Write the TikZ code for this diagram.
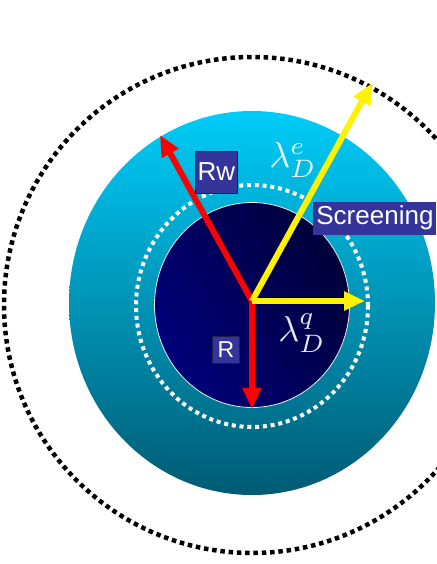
\documentclass[tikz,border=0pt]{standalone}
\usepackage{fontspec}
\setmainfont{Liberation Sans}
\usetikzlibrary{arrows.meta}
\definecolor{cyantop}{HTML}{00CCF8}
\definecolor{cyanbot}{HTML}{005B74}
\definecolor{navyA}{HTML}{00007A}
\definecolor{navyB}{HTML}{00003A}
\definecolor{labelfill}{HTML}{34349A}
\definecolor{labeldraw}{HTML}{1E1E50}
\tikzset{
  redarrow/.style={draw=red, line width=6pt, -{Triangle[length=21pt,width=18pt]}},
  yelarrow/.style={draw=yellow, line width=6pt, -{Triangle[length=21pt,width=18pt]}},
  labelbox/.style={fill=labelfill, draw=labeldraw, line width=0.8pt, text=white, inner sep=0pt, font=\fontsize{26}{28}\selectfont},
  lambdalabel/.style={text=white, text opacity=0.9, inner sep=0pt},
  blackdots/.style={draw=black, line width=4.5pt, dash pattern=on 4.5pt off 3.8pt},
  whitedots/.style={draw=white, line width=4pt, dash pattern=on 4pt off 3.8pt}
}
\begin{document}
\begin{tikzpicture}[x=1pt,y=-1pt]
\useasboundingbox (0,0) rectangle (436,564);
\fill[white] (0,0) rectangle (436,564);
% outer dotted circle
\draw[blackdots] (252,305) circle [radius=248pt];
% cyan ellipse
\shade[top color=cyantop, bottom color=cyanbot] (252,303) ellipse [x radius=183pt, y radius=192pt];
% white dotted ring
\draw[whitedots] (252,306) ellipse [x radius=116pt, y radius=121pt];
% inner dark core
\shade[left color=navyA, right color=navyB, shading angle=120] (252,305) ellipse [x radius=97.5pt, y radius=102.5pt];
\draw[white!85!gray, line width=0.8pt] (252,305) ellipse [x radius=97.5pt, y radius=102.5pt];
% arrows
\coordinate (O) at (252,301);
\coordinate (Rwtip) at (160,135);
\coordinate (Rtip) at (252,409);
\coordinate (Etip) at (372,83);
\coordinate (Qtip) at (365,301);
\draw[redarrow] (O) -- (Rwtip);
\draw[redarrow] (O) -- (Rtip);
\draw[yelarrow] (O) -- (Etip);
\draw[yelarrow] (O) -- (Qtip);
% labels
\node[labelbox, minimum width=42pt, minimum height=42pt] (Rw) at (216.5,172) {Rw};
\node[labelbox, minimum width=26.5pt, minimum height=27pt, font=\fontsize{23}{25}\selectfont] (R) at (226,349.5) {R};
\node[labelbox, draw=none, anchor=west, minimum height=33pt, inner xsep=3pt] (Scr) at (313,218) {Screening};
\node[lambdalabel] (le) at (293,160) {\scalebox{3.6}{$\lambda_D^e$}};
\node[lambdalabel] (lq) at (302,333) {\scalebox{3.6}{$\lambda_D^q$}};
\end{tikzpicture}
\end{document}
